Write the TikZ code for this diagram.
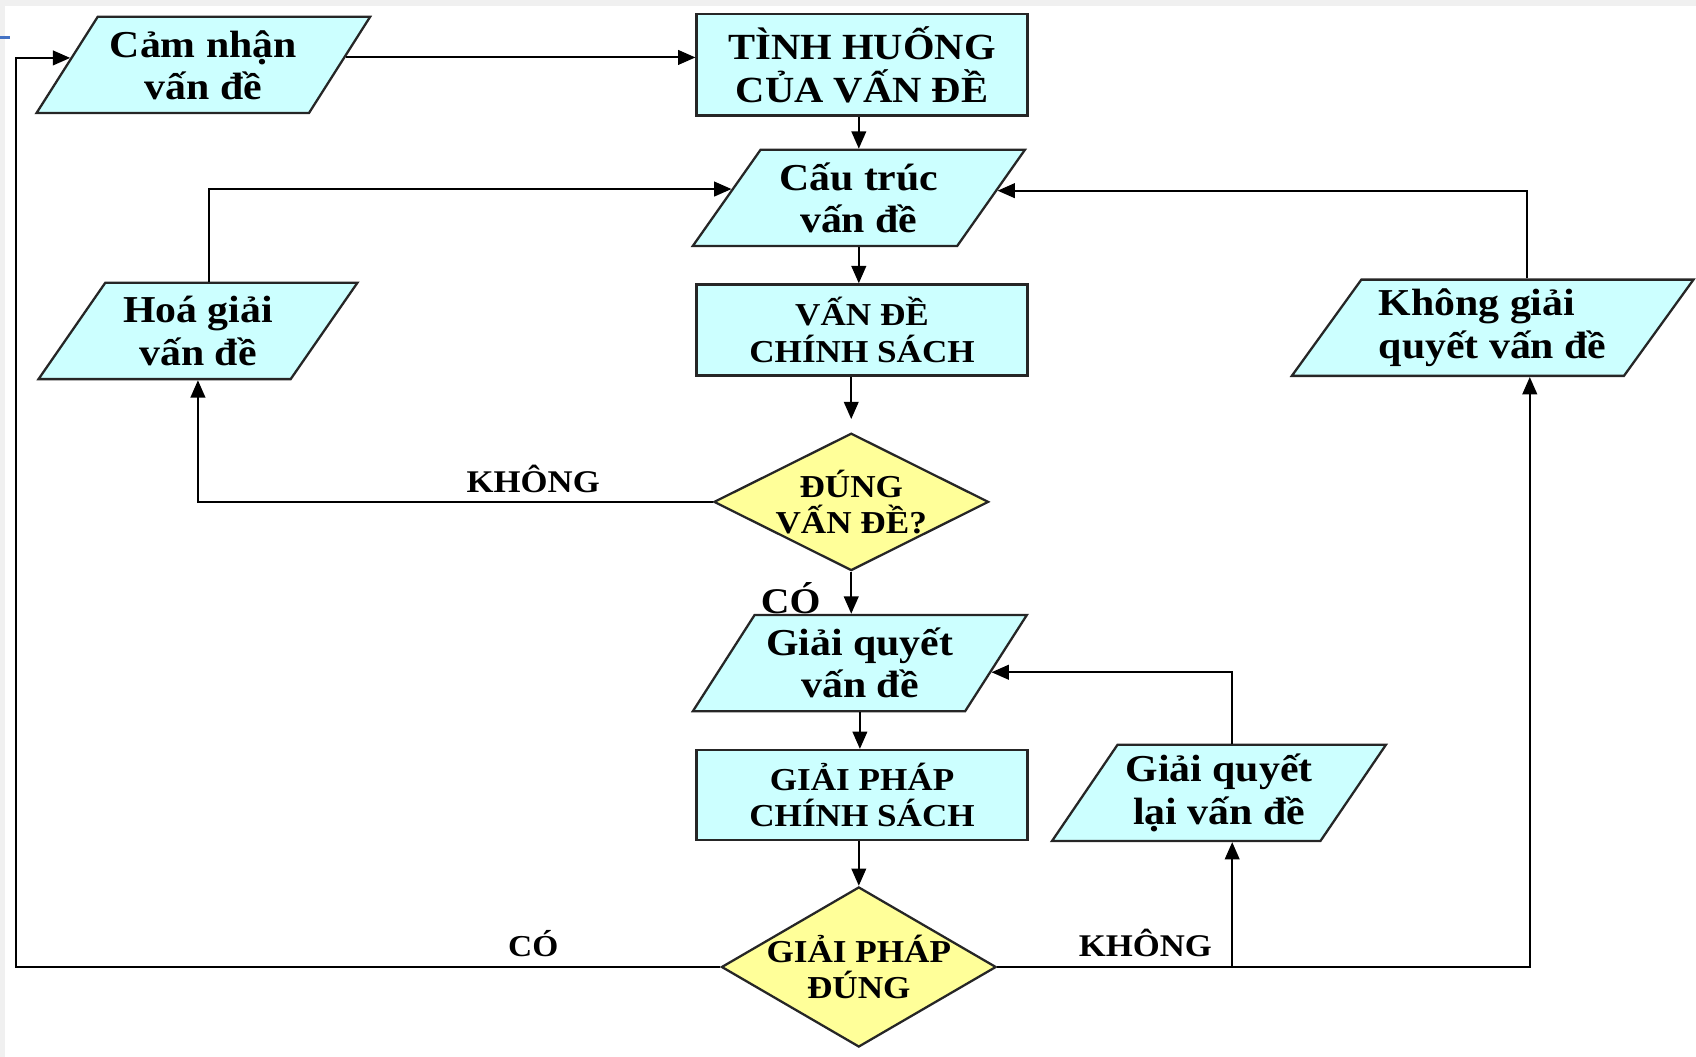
\documentclass[tikz,border=0pt]{standalone}
\usepackage{fontspec}
\setmainfont{Liberation Serif}[FakeStretch=1.1]
\usetikzlibrary{shapes.geometric,arrows.meta}
\definecolor{paleblue}{HTML}{CCFFFF}
\definecolor{paleyellow}{HTML}{FFFF99}
\definecolor{framegray}{HTML}{F0F0F0}
\definecolor{markblue}{HTML}{4472C4}
\tikzset{
  para/.style={trapezium, trapezium left angle=52, trapezium right angle=128, trapezium stretches,
    draw=black!85, fill=paleblue, line width=0.6pt, minimum height=8.9mm, inner sep=0pt,
    align=center, font=\fontsize{10}{11.1}\selectfont\bfseries},
  box/.style={rectangle, draw=black!85, fill=paleblue, line width=0.6pt, minimum width=30.6mm, align=center},
  ask/.style={diamond, draw=black!85, fill=paleyellow, line width=0.6pt, inner sep=-3mm,
    minimum width=25.4mm, align=center, font=\fontsize{8.4}{9.4}\selectfont\bfseries},
  lbl/.style={font=\fontsize{8.3}{9}\selectfont\bfseries, inner sep=0pt},
  link/.style={->, line width=0.55pt},
}
\begin{document}
\begin{tikzpicture}[x=0.1mm, y=-0.1mm, >={Triangle[length=1.6mm,width=1.35mm]}]
    \useasboundingbox (0,0) rectangle (1568,977);
    \fill[framegray] (0,0) rectangle (1568,6);
    \fill[framegray] (0,0) rectangle (5,977);
    \draw[markblue, line width=0.8pt] (0,35) -- (9,35);

    \node[para, minimum width=31mm] (cam) at (188,60) {Cảm nhận\\vấn đề};
    \node[box, minimum height=8.7mm, font=\fontsize{9.7}{11.2}\selectfont\bfseries] (tinh) at (797,60) {TÌNH HUỐNG\\CỦA VẤN ĐỀ};
    \node[para, minimum width=30.8mm] (cautruc) at (794,183) {Cấu trúc\\vấn đề};
    \node[box, minimum height=8.3mm, font=\fontsize{8.4}{9.7}\selectfont\bfseries] (vande) at (797,305) {VẤN ĐỀ\\CHÍNH SÁCH};
    \node[ask, minimum height=12.7mm] (dung) at (787,464) {ĐÚNG\\VẤN ĐỀ?};
    \node[para, minimum width=29.6mm] (hoagiai) at (183,306) {Hoá giải\\vấn đề};
    \node[para, minimum width=37.2mm, align=left] (khong) at (1380,303) {Không giải\\quyết vấn đề};
    \node[para, minimum width=30.9mm] (giaiquyet) at (795,613) {Giải quyết\\vấn đề};
    \node[box, minimum height=8.1mm, font=\fontsize{8.4}{9.7}\selectfont\bfseries] (giaiphap) at (797,735) {GIẢI PHÁP\\CHÍNH SÁCH};
    \node[para, minimum width=31mm] (lai) at (1127,733) {Giải quyết\\lại vấn đề};
    \node[ask, minimum height=14.8mm] (dungtk) at (794,894) {GIẢI PHÁP\\ĐÚNG};

    \node[lbl] (no1) at (493,443) {KHÔNG};
    \node[lbl, font=\fontsize{9.5}{10}\selectfont\bfseries] (yes1) at (731,553) {CÓ};
    \node[lbl, font=\fontsize{8}{9}\selectfont\bfseries] (yes2) at (493,872) {CÓ};
    \node[lbl] (no2) at (1059,872) {KHÔNG};

    \coordinate (rail) at (15,0);
    \draw[link] (cam.3) -- (cam.3 -| tinh.west);
    \draw[link] (cautruc.90 |- tinh.south) -- (cautruc.90);
    \draw[link] (cautruc.270) -- (cautruc.270 |- vande.north);
    \draw[link] (dung.north |- vande.south) -- ([yshift=1.2mm]dung.north);
    \draw[link] (dung.west) -| (hoagiai.270);
    \draw[link] (hoagiai.77) |- (cautruc.176);
    \draw[link] (khong.55) |- (cautruc.3);
    \draw[link] (dung.south) -- (dung.south |- giaiquyet.north);
    \draw[link] (giaiquyet.270) -- (giaiquyet.270 |- giaiphap.north);
    \draw[link] (dungtk.north |- giaiphap.south) -- (dungtk.north);
    \draw[link] (lai.75) |- (giaiquyet.356);
    \draw[link] (dungtk.east) -| (khong.307);
    \draw[link] (lai.285 |- dungtk.east) -- (lai.285);
    \draw[link] (dungtk.west) -- (rail |- dungtk.west) -- (rail |- cam.177) -- (cam.177);
\end{tikzpicture}
\end{document}
